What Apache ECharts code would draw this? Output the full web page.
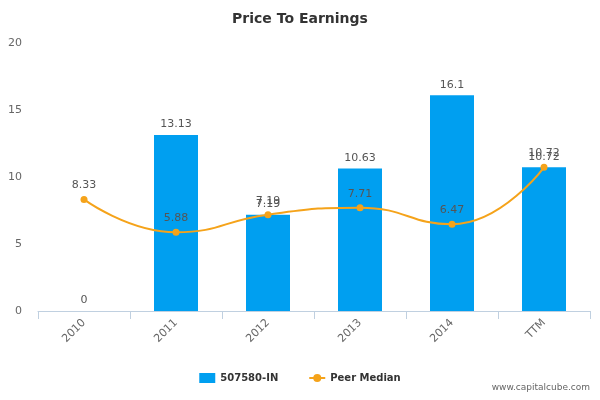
<!DOCTYPE html>
<html><head><meta charset="utf-8">
<script src="https://cdn.jsdelivr.net/npm/echarts@6/dist/echarts.min.js"></script>
<style>html,body{margin:0;padding:0;background:#fff}#c{width:600px;height:400px}</style>
</head><body><div id="c"></div>
<script>
const categories = ['2010','2011','2012','2013','2014','TTM'];
const companyValues = [0, 13.13, 7.19, 10.63, 16.1, 10.72];
const peerMedian = [8.33, 5.88, 7.19, 7.71, 6.47, 10.72];
const yTicks = [0, 5, 10, 15, 20];
const chart = echarts.init(document.getElementById('c'));
chart.setOption({
  animation: false,
  title: {text: 'Price To Earnings', left: 'center', top: 7,
    textStyle: {fontSize: 14, fontWeight: 'bold', color: '#333', fontFamily: 'DejaVu Sans'}},
  graphic: [{type: 'text', right: 10, bottom: 8,
    style: {text: 'www.capitalcube.com', fontSize: 9, fill: '#666', fontFamily: 'DejaVu Sans'}}],
  legend: {bottom: 12, left: 'center', itemGap: 30, itemWidth: 16, itemHeight: 10,
    textStyle: {fontSize: 10, fontWeight: 'bold', color: '#333', fontFamily: 'DejaVu Sans'},
    data: [{name: '507580-IN', icon: 'rect'}, {name: 'Peer Median'}]},
  grid: {left: 38, right: 10, top: 43, bottom: 89},
  xAxis: {type: 'category', data: categories,
    axisLine: {lineStyle: {color: '#c0d0e0'}},
    axisTick: {show: true, length: 8, lineStyle: {color: '#c0d0e0'}},
    axisLabel: {rotate: 45, color: '#666', fontSize: 11, margin: 10, fontFamily: 'DejaVu Sans'}},
  yAxis: {type: 'value', min: yTicks[0], max: yTicks[yTicks.length-1], interval: 5,
    splitLine: {show: false}, axisLine: {show: false},
    axisLabel: {color: '#666', fontSize: 11, margin: 16, fontFamily: 'DejaVu Sans'}},
  series: [
    {name: '507580-IN', type: 'bar', data: companyValues, barWidth: 44,
      itemStyle: {color: '#009ff0'},
      label: {show: true, position: 'top', color: '#555', fontSize: 11, fontFamily: 'DejaVu Sans'}},
    {name: 'Peer Median', type: 'line', data: peerMedian, smooth: true,
      symbol: 'circle', symbolSize: 7,
      lineStyle: {color: '#f5a31a', width: 2}, itemStyle: {color: '#f5a31a'},
      label: {show: true, position: 'top', color: '#555', fontSize: 11, fontFamily: 'DejaVu Sans'}}
  ]
});
</script></body></html>
